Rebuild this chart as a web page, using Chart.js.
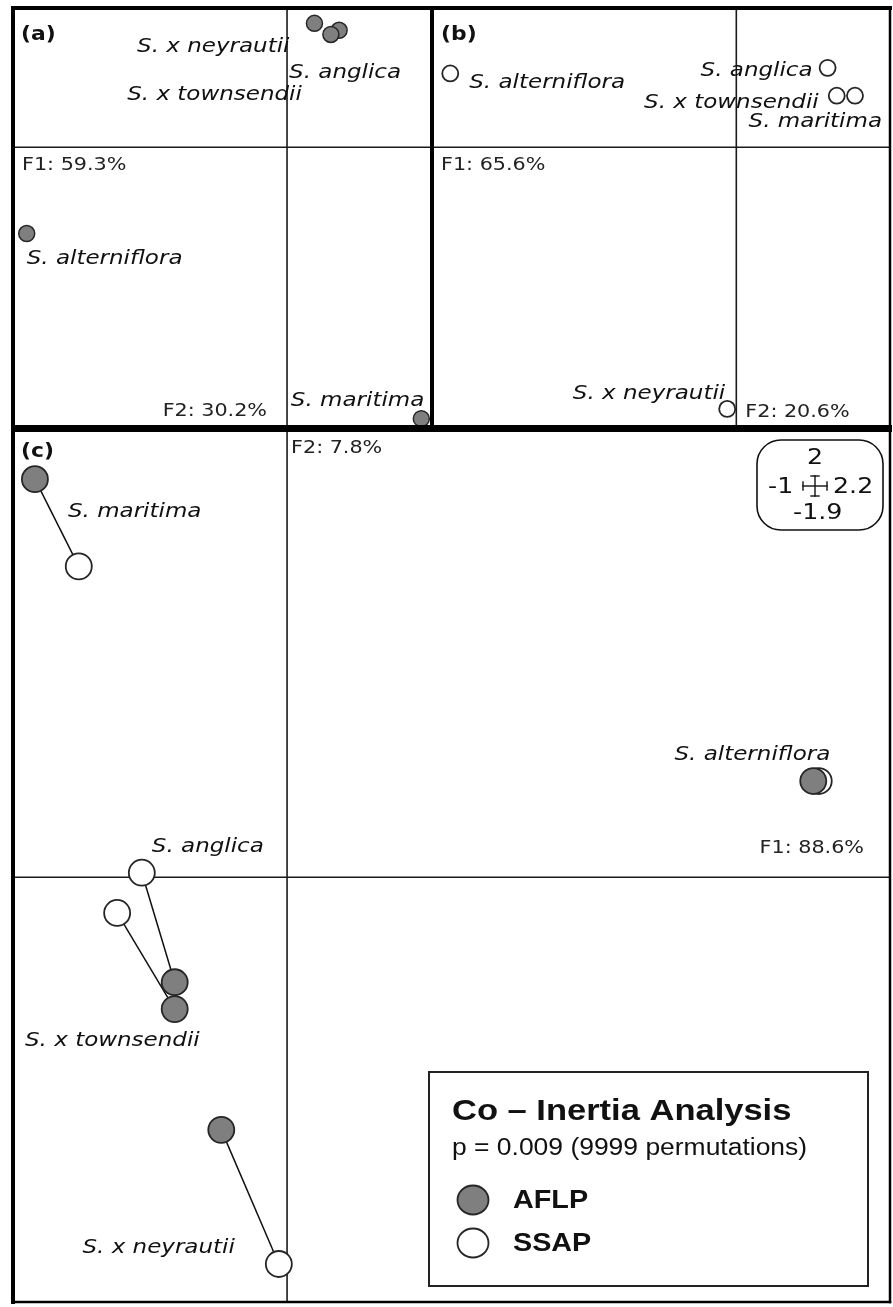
<!DOCTYPE html>
<html><head><meta charset="utf-8">
<script src="https://cdn.jsdelivr.net/npm/chart.js@4.4.0/dist/chart.umd.min.js"></script>
<style>
html,body{margin:0;padding:0;background:#fff;width:893px;height:1307px;overflow:hidden;}
canvas{position:absolute;}
</style></head><body>
<canvas id="ca"></canvas><canvas id="cb"></canvas><canvas id="cc"></canvas>
<script>
// ---------------- DATA ----------------
const species = ['S. alterniflora', 'S. anglica', 'S. maritima', 'S. x neyrautii', 'S. x townsendii'];
// (a) AFLP PCA
const aflpF1 = [-0.95, 0.19, 0.49, 0.10, 0.16];
const aflpF2 = [-0.62, 0.84, -1.95, 0.89, 0.81];
// (b) SSAP PCA
const ssapF1 = [-0.94, 0.30, 0.39, -0.03, 0.33];
const ssapF2 = [0.53, 0.57, 0.37, -1.88, 0.37];
// (c) Co-inertia
const coAflpF1 = [1.92, -0.41, -0.92, -0.24, -0.41];
const coAflpF2 = [0.43, -0.47, 1.78, -1.13, -0.59];
const coSsapF1 = [1.94, -0.53, -0.76, -0.03, -0.62];
const coSsapF2 = [0.43, 0.02, 1.39, -1.73, -0.16];
const cXTicks = [-1, 2.2];
const cYTicks = [-1.9, 2];
const axisA = ['F1: 59.3%', 'F2: 30.2%'];
const axisB = ['F1: 65.6%', 'F2: 20.6%'];
const axisC = ['F1: 88.6%', 'F2: 7.8%'];
const panelTags = ['(a)', '(b)', '(c)'];
const seriesNames = ['AFLP', 'SSAP'];
const legendTitle = 'Co \u2013 Inertia Analysis';
const legendSub = 'p = 0.009 (9999 permutations)';

// ---------------- STYLE / LAYOUT ----------------
const SX = 1.15; // horizontal text stretch of the original figure
const P = 10;
const GREY = '#7f7f7f', EDGE = '#262626';
const SPF = 'italic 20px "DejaVu Sans"';
const AXF = '18px "DejaVu Sans"';
const TAGF = 'bold 19px "DejaVu Sans"';
// label offsets [dx, dy, align] relative to the anchor point
const offA = [[0, 30, 'left'], [-50, 48, 'left'], [3, -13, 'right'], [-25, 29, 'right'], [-29, 66, 'right']];
const offB = [[19, 15, 'left'], [-15, 8, 'right'], [27, 31, 'right'], [-2, -10, 'right'], [-18, 12, 'right']];
// panel c: [datasetKey, dx, dy, align]
const offC = [['A', 17, -21, 'right'], ['S', 10, -21, 'left'], ['A', 33, 38, 'left'], ['S', -44, -11, 'right'], ['A', 25, 37, 'right']];

function txt(ctx, s, x, y, font, align, color) {
  ctx.save();
  ctx.font = font; ctx.fillStyle = color || '#111';
  ctx.textAlign = align || 'left'; ctx.textBaseline = 'alphabetic';
  ctx.translate(x, y); ctx.scale(SX, 1); ctx.fillText(s, 0, 0);
  ctx.restore();
}
function hline(ctx, x1, y1, x2, y2, w, col) {
  ctx.save(); ctx.strokeStyle = col || '#000'; ctx.lineWidth = w; ctx.lineCap = 'square';
  ctx.beginPath(); ctx.moveTo(x1, y1); ctx.lineTo(x2, y2); ctx.stroke(); ctx.restore();
}
function pts(xs, ys) { return xs.map((v, i) => ({x: v, y: ys[i]})); }

const decor = {
  id: 'decor',
  beforeDatasetsDraw(chart, args, o) {
    const ctx = chart.ctx, ca = chart.chartArea;
    const x0 = chart.scales.x.getPixelForValue(0), y0 = chart.scales.y.getPixelForValue(0);
    hline(ctx, ca.left, y0, ca.right, y0, 1.6, '#1a1a1a');
    hline(ctx, x0, ca.top, x0, ca.bottom, 1.6, '#1a1a1a');
  },
  afterDraw(chart, args, o) {
    const ctx = chart.ctx, ca = chart.chartArea;
    const x0 = chart.scales.x.getPixelForValue(0), y0 = chart.scales.y.getPixelForValue(0);
    const f = o.frame;
    hline(ctx, ca.left, ca.top, ca.left, ca.bottom, f[0]);
    hline(ctx, ca.left, ca.top, ca.right, ca.top, f[1]);
    hline(ctx, ca.right, ca.top, ca.right, ca.bottom, f[2]);
    hline(ctx, ca.left, ca.bottom, ca.right, ca.bottom, f[3]);
    o.extra(chart, ctx, ca, x0, y0);
  }
};

function makeChart(id, box, xr, yr, datasets, frame, extra) {
  const cv = document.getElementById(id);
  const w = box[2] - box[0], h = box[3] - box[1];
  cv.width = w + 2 * P; cv.height = h + 2 * P;
  cv.style.left = (box[0] - P) + 'px'; cv.style.top = (box[1] - P) + 'px';
  cv.style.width = cv.width + 'px'; cv.style.height = cv.height + 'px';
  return new Chart(cv, {
    type: 'scatter',
    data: {datasets},
    options: {
      responsive: false, animation: false, events: [], devicePixelRatio: 1,
      layout: {padding: P, autoPadding: false},
      scales: {
        x: {type: 'linear', min: xr[0], max: xr[1], display: false},
        y: {type: 'linear', min: yr[0], max: yr[1], display: false}
      },
      plugins: {legend: {display: false}, tooltip: {enabled: false}, decor: {frame, extra}}
    },
    plugins: [decor]
  });
}

// ---- panel (a)
makeChart('ca', [13, 8, 432, 427], [-1, 0.529], [-2.01, 1], [
  {label: seriesNames[0], data: pts(aflpF1, aflpF2), pointRadius: 8, backgroundColor: GREY, borderColor: EDGE, borderWidth: 1.5, clip: false}
], [4, 4, 4, 4], (chart, ctx, ca, x0, y0) => {
  txt(ctx, panelTags[0], ca.left + 8, ca.top + 32, TAGF, 'left', '#111');
  txt(ctx, axisA[0], ca.left + 9, y0 + 23, AXF, 'left', '#222');
  txt(ctx, axisA[1], x0 - 20, ca.bottom - 11, AXF, 'right', '#222');
  const m = chart.getDatasetMeta(0).data;
  species.forEach((s, i) => txt(ctx, s, m[i].x + offA[i][0], m[i].y + offA[i][1], SPF, offA[i][2]));
});

// ---- panel (b)
makeChart('cb', [432, 8, 890, 427], [-1, 0.505], [-2.01, 1], [
  {label: seriesNames[1], data: pts(ssapF1, ssapF2), pointRadius: 8, backgroundColor: '#fff', borderColor: EDGE, borderWidth: 1.8, clip: false}
], [4, 4, 2.5, 4], (chart, ctx, ca, x0, y0) => {
  txt(ctx, panelTags[1], ca.left + 9, ca.top + 32, TAGF, 'left', '#111');
  txt(ctx, axisB[0], ca.left + 9, y0 + 23, AXF, 'left', '#222');
  txt(ctx, axisB[1], x0 + 9, ca.bottom - 10, AXF, 'left', '#222');
  const m = chart.getDatasetMeta(0).data;
  species.forEach((s, i) => txt(ctx, s, m[i].x + offB[i][0], m[i].y + offB[i][1], SPF, offB[i][2]));
});

// ---- panel (c)
const cSets = [
  {label: seriesNames[0], data: pts(coAflpF1, coAflpF2), pointRadius: 13, backgroundColor: GREY, borderColor: EDGE, borderWidth: 1.8, clip: false},
  {label: seriesNames[1], data: pts(coSsapF1, coSsapF2), pointRadius: 13, backgroundColor: '#fff', borderColor: EDGE, borderWidth: 1.8, clip: false}
];
species.forEach((s, i) => cSets.push({
  label: s, data: [{x: coAflpF1[i], y: coAflpF2[i]}, {x: coSsapF1[i], y: coSsapF2[i]}],
  showLine: true, pointRadius: 0, borderColor: '#111', borderWidth: 1.5, clip: false
}));
makeChart('cc', [13, 430, 890, 1302], cXTicks, cYTicks, cSets, [4, 4, 2.5, 2.5], (chart, ctx, ca, x0, y0) => {
  const X = v => v - 13 + ca.left, Y = v => v - 430 + ca.top;
  txt(ctx, panelTags[2], ca.left + 8, ca.top + 27, TAGF, 'left', '#111');
  txt(ctx, axisC[1], x0 + 4, ca.top + 23, AXF, 'left', '#222');
  txt(ctx, axisC[0], ca.right - 26, y0 - 24, AXF, 'right', '#222');
  const mA = chart.getDatasetMeta(0).data, mS = chart.getDatasetMeta(1).data;
  species.forEach((s, i) => {
    const o = offC[i], p = o[0] === 'A' ? mA[i] : mS[i];
    txt(ctx, s, p.x + o[1], p.y + o[2], SPF, o[3]);
  });
  // scale box
  ctx.save(); ctx.strokeStyle = '#111'; ctx.lineWidth = 1.6;
  ctx.beginPath(); ctx.roundRect(X(757), Y(440), 126, 90, 24); ctx.stroke(); ctx.restore();
  const SF = '22px "DejaVu Sans"';
  txt(ctx, String(cYTicks[1]), X(815), Y(464), SF, 'center');
  txt(ctx, String(cXTicks[0]), X(768), Y(493), SF, 'left');
  txt(ctx, String(cXTicks[1]), X(833), Y(493), SF, 'left');
  txt(ctx, String(cYTicks[0]), X(793), Y(519), SF, 'left');
  const cx = X(815), cy = Y(486);
  hline(ctx, cx - 12, cy, cx + 12, cy, 1.4, '#111');
  hline(ctx, cx - 12, cy - 4, cx - 12, cy + 4, 1.4, '#111');
  hline(ctx, cx + 12, cy - 4, cx + 12, cy + 4, 1.4, '#111');
  hline(ctx, cx, cy - 10, cx, cy + 10, 1.4, '#111');
  hline(ctx, cx - 4, cy - 10, cx + 4, cy - 10, 1.4, '#111');
  hline(ctx, cx - 4, cy + 10, cx + 4, cy + 10, 1.4, '#111');
  // legend box
  ctx.save(); ctx.strokeStyle = '#222'; ctx.lineWidth = 2;
  ctx.strokeRect(X(429), Y(1072), 439, 214); ctx.restore();
  txt(ctx, legendTitle, X(452), Y(1120), 'bold 30px "Liberation Sans"', 'left', '#111');
  txt(ctx, legendSub, X(452), Y(1155), '23px "Liberation Sans"', 'left', '#111');
  [0, 1].forEach(k => {
    const ds = chart.data.datasets[k], cyL = Y(1200 + 43 * k);
    ctx.save(); ctx.fillStyle = ds.backgroundColor; ctx.strokeStyle = ds.borderColor; ctx.lineWidth = 1.8;
    ctx.beginPath(); ctx.ellipse(X(473), cyL, 15.5, 14.5, 0, 0, Math.PI * 2); ctx.fill(); ctx.stroke(); ctx.restore();
    txt(ctx, ds.label, X(513), cyL + 8, 'bold 25px "Liberation Sans"', 'left', '#111');
  });
});
</script>
</body></html>
